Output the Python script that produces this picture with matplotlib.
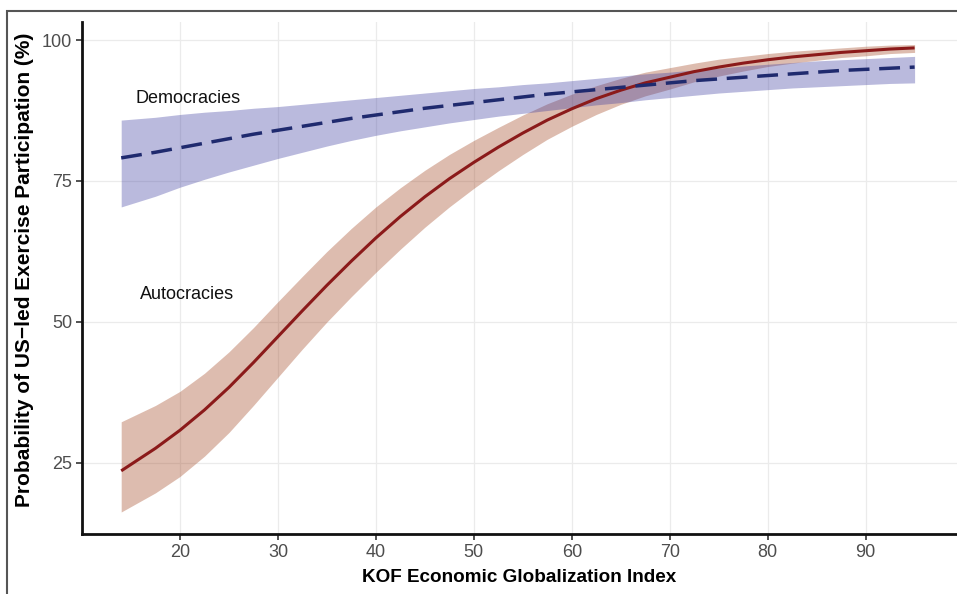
import numpy as np
import matplotlib.pyplot as plt
from matplotlib.patches import Rectangle

plt.rcParams['font.family'] = ['Liberation Sans', 'DejaVu Sans']

kof = [14, 17.5, 20, 22.5, 25, 27.5, 30, 32.5, 35, 37.5, 40, 42.5, 45, 47.5, 50, 52.5, 55,
       57.5, 60, 62.5, 65, 67.5, 70, 72.5, 75, 77.5, 80, 82.5, 85, 87.5, 90, 92.5, 95]

# autocracies: predicted probability and 95% band
auto_fit = [23.6, 27.6, 30.8, 34.4, 38.4, 42.8, 47.4, 52.0, 56.5, 60.8, 64.9, 68.7, 72.2, 75.4, 78.3, 81.0, 83.5,
            85.8, 87.8, 89.6, 91.1, 92.4, 93.4, 94.4, 95.2, 95.9, 96.5, 97.0, 97.4, 97.8, 98.1, 98.4, 98.6]
auto_hi = [32.3, 35.2, 37.7, 40.9, 44.7, 49.0, 53.6, 58.1, 62.5, 66.6, 70.4, 73.8, 76.9, 79.7, 82.2, 84.5, 86.7,
           88.7, 90.4, 91.9, 93.2, 94.3, 95.1, 95.9, 96.6, 97.1, 97.6, 98.0, 98.3, 98.6, 98.9, 99.1, 99.2]
auto_lo = [16.3, 19.7, 22.6, 26.2, 30.4, 35.2, 40.2, 45.2, 50.0, 54.5, 58.8, 62.9, 66.8, 70.4, 73.7, 76.8, 79.7,
           82.4, 84.7, 86.8, 88.6, 90.1, 91.3, 92.6, 93.6, 94.5, 95.3, 95.9, 96.4, 96.9, 97.2, 97.6, 97.8]

# democracies
demo_fit = [79.1, 80.1, 80.9, 81.7, 82.5, 83.3, 84.0, 84.7, 85.4, 86.1, 86.7, 87.3, 87.9, 88.4, 88.9, 89.4, 89.9,
            90.4, 90.8, 91.2, 91.6, 92.0, 92.4, 92.8, 93.1, 93.4, 93.7, 94.0, 94.3, 94.6, 94.8, 95.0, 95.2]
demo_hi = [85.8, 86.3, 86.8, 87.2, 87.5, 87.9, 88.2, 88.6, 89.0, 89.4, 89.8, 90.2, 90.6, 91.0, 91.4, 91.7, 92.1,
           92.4, 92.8, 93.2, 93.6, 94.0, 94.3, 94.7, 95.0, 95.4, 95.7, 96.0, 96.3, 96.5, 96.7, 96.9, 97.1]
demo_lo = [70.4, 72.3, 73.9, 75.3, 76.6, 77.8, 79.0, 80.1, 81.2, 82.2, 83.1, 83.9, 84.6, 85.3, 85.9, 86.5, 87.0,
           87.5, 88.0, 88.5, 88.9, 89.4, 89.8, 90.2, 90.6, 90.9, 91.2, 91.5, 91.7, 91.9, 92.1, 92.3, 92.4]

fig = plt.figure(figsize=(9.57, 5.94), dpi=100)
ax = fig.add_axes([0.0857, 0.101, 0.914, 0.862])

ax.fill_between(kof, auto_lo, auto_hi, color='#A0401A', alpha=0.35, linewidth=0)
ax.fill_between(kof, demo_lo, demo_hi, color='#3A3AA0', alpha=0.35, linewidth=0)
ax.plot(kof, auto_fit, color='#8B1A1A', linewidth=2.2, solid_capstyle='butt')
ax.plot(kof, demo_fit, color='#1F2A6E', linewidth=2.5, dashes=(6, 2.8))

ax.text(15.5, 89.7, 'Democracies', fontsize=13, va='center', ha='left', color='#111111')
ax.text(15.9, 54.8, 'Autocracies', fontsize=13, va='center', ha='left', color='#111111')

ax.set_xlim(10, 99.3)
ax.set_ylim(12.4, 103.2)
ax.set_xticks([20, 30, 40, 50, 60, 70, 80, 90])
ax.set_yticks([25, 50, 75, 100])
ax.grid(color='#EBEBEB', linewidth=0.9)
ax.set_axisbelow(True)

for s in ['top', 'right']:
    ax.spines[s].set_visible(False)
for s in ['left', 'bottom']:
    ax.spines[s].set_linewidth(2)
    ax.spines[s].set_color('#111111')
ax.tick_params(length=4, width=1.2, color='#333333', labelcolor='#4D4D4D', labelsize=13, pad=3)

ax.set_xlabel('KOF Economic Globalization Index', fontsize=13.6, fontweight='bold', labelpad=6)
ax.set_ylabel('Probability of US\u2212led Exercise Participation (%)', fontsize=15, fontweight='bold')
ax.yaxis.set_label_coords(-0.055, 0.516)

# outer frame of the figure
fig.patches.append(Rectangle((7 / 957, -0.2), 1.2, 1.2 - 11 / 594, transform=fig.transFigure,
                             fill=False, edgecolor='#555555', linewidth=1.5))

fig.savefig('out.png', dpi=100)
